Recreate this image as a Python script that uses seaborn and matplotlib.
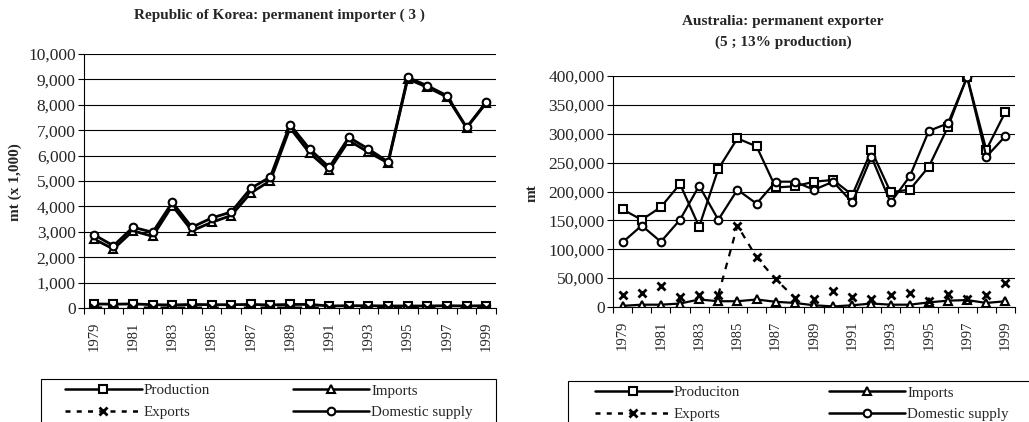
import numpy as np
import pandas as pd
import seaborn as sns
import matplotlib.pyplot as plt
from matplotlib.lines import Line2D
from matplotlib.patches import Rectangle
from matplotlib.ticker import FixedLocator, StrMethodFormatter

# data
years = np.arange(1979, 2000)

kor_production = [160, 150, 160, 130, 120, 140, 130, 130, 140, 120, 140,
                  140, 80, 90, 90, 80, 80, 80, 90, 80, 90]
kor_imports = [2720, 2320, 3040, 2820, 4030, 3040, 3370, 3640, 4530, 5010, 7090,
               6100, 5420, 6590, 6130, 5710, 9020, 8690, 8310, 7090, 8070]
kor_exports = [10, 10, 10, 5, 5, 5, 5, 5, 5, 5, 5,
               5, 5, 5, 5, 5, 5, 5, 5, 5, 5]
kor_domestic = [2890, 2450, 3180, 2980, 4160, 3180, 3540, 3780, 4710, 5160, 7220,
                6260, 5540, 6720, 6260, 5750, 9080, 8750, 8360, 7110, 8100]

aus_production = [169000, 151000, 173000, 213000, 139000, 239000, 292000, 278000,
                  207000, 209000, 217000, 220000, 194000, 271000, 199000, 203000,
                  243000, 312000, 399000, 272000, 338000]
aus_imports = [2000, 4000, 4000, 6000, 13000, 10000, 10000, 13000, 9000, 7000, 3000,
               1000, 3000, 6000, 4000, 4000, 8000, 11000, 12000, 7000, 10000]
aus_exports = [20000, 25000, 36000, 17000, 20000, 21000, 141000, 86000, 48000,
               16000, 13000, 28000, 17000, 13000, 21000, 24000, 10000, 23000,
               14000, 20000, 41000]
aus_domestic = [112000, 141000, 113000, 151000, 210000, 151000, 203000, 179000,
                217000, 217000, 203000, 217000, 181000, 260000, 181000, 226000,
                305000, 318000, 398000, 260000, 296000]

labels_kor = ["Production", "Imports", "Exports", "Domestic supply"]
labels_aus = ["Produciton", "Imports", "Exports", "Domestic supply"]

sns.set_style("white")
plt.rcParams['font.family'] = ['Liberation Serif', 'DejaVu Serif']

W, H = 1029, 422
fig = plt.figure(figsize=(W / 100, H / 100), dpi=100)


def fx(x):
    return x / W


def fy(y):
    return 1 - y / H


pos = np.arange(len(years))
solid = dict(color='black', markeredgecolor='black', markerfacecolor='white')
styles = {
    "prod": dict(marker='s', markersize=5.5, **solid),
    "imp": dict(marker='^', markersize=5.5, **solid),
    "exp": dict(marker='x', markersize=6, markeredgewidth=2, color='black',
                markeredgecolor='black'),
    "dom": dict(marker='o', markersize=5.5, **solid),
}


def draw_panel(ax, prod, imp, exp, dom, lw, ymax, ystep, dash_mask):
    sns.lineplot(x=pos, y=prod, ax=ax, lw=lw, markeredgewidth=1.5, **styles["prod"])
    sns.lineplot(x=pos, y=imp, ax=ax, lw=lw, markeredgewidth=1.5, **styles["imp"])
    exp = np.asarray(exp)
    sns.lineplot(x=pos, y=exp, ax=ax, linestyle='none', **styles["exp"])
    sns.lineplot(x=pos[dash_mask], y=exp[dash_mask], ax=ax, lw=lw, color='black',
                 dashes=False, linestyle=(0, (3, 3)))
    sns.lineplot(x=pos, y=dom, ax=ax, lw=lw, markeredgewidth=1.5, **styles["dom"])

    ax.set_xlim(-0.5, len(years) - 0.5)
    ax.set_ylim(0, ymax)
    ax.set_yticks(np.arange(0, ymax + 1, ystep))
    ax.yaxis.set_major_formatter(StrMethodFormatter('{x:,.0f}'))
    ax.set_xticks(pos[::2])
    ax.set_xticklabels([str(y) for y in years[::2]], rotation=90, fontsize=10.5)
    ax.xaxis.set_minor_locator(FixedLocator(np.arange(-0.5, len(years), 1)))
    ax.tick_params(axis='x', which='major', length=0, pad=10)
    ax.tick_params(axis='x', which='minor', length=4, width=0.8, direction='out',
                   color='black', bottom=True)
    ax.tick_params(axis='y', length=4, width=0.8, direction='out', color='black',
                   labelsize=12.5, pad=2, left=True)
    ax.yaxis.grid(True, color='black', lw=0.8)
    ax.set_axisbelow(True)
    for s in ['top', 'right']:
        ax.spines[s].set_visible(False)
    for s in ['left', 'bottom']:
        ax.spines[s].set_color('black')
        ax.spines[s].set_linewidth(0.8)
    ax.set_xlabel('')
    ax.set_ylabel('')


ax1 = fig.add_axes([fx(84), fy(308), fx(496) - fx(84), (308 - 54) / H])
draw_panel(ax1, kor_production, kor_imports, kor_exports, kor_domestic,
           2.0, 10000, 1000, np.ones(len(years), dtype=bool))

ax2 = fig.add_axes([fx(613), fy(307), fx(1015) - fx(613), (307 - 76) / H])
draw_panel(ax2, aus_production, aus_imports, aus_exports, aus_domestic,
           1.6, 400000, 50000, (years >= 1984) & (years <= 1988))

# titles and axis labels
fig.text(fx(279), fy(15), 'Republic of Korea: permanent importer ( 3 )',
         ha='center', va='center', fontweight='bold', fontsize=11)
fig.text(fx(783), fy(22), 'Australia: permanent exporter',
         ha='center', va='center', fontweight='bold', fontsize=11)
fig.text(fx(783), fy(42), '(5 ; 13% production)',
         ha='center', va='center', fontweight='bold', fontsize=11)
fig.text(fx(15), fy(182), 'mt (x 1,000)', rotation=90, ha='center', va='center',
         fontweight='bold', fontsize=11)
fig.text(fx(532), fy(193), 'mt', rotation=90, ha='center', va='center',
         fontweight='bold', fontsize=11)


# legends with boxes running off the bottom of the figure
def add_legend(labels, box_x0, box_x1, box_top, anchor_x, anchor_y, colsp):
    handles = [
        Line2D([], [], lw=1.8, markeredgewidth=1.5, **styles["prod"]),
        Line2D([], [], lw=1.8, linestyle=(0, (2, 2.5)), **styles["exp"]),
        Line2D([], [], lw=1.8, markeredgewidth=1.5, **styles["imp"]),
        Line2D([], [], lw=1.8, markeredgewidth=1.5, **styles["dom"]),
    ]
    names = [labels[0], labels[2], labels[1], labels[3]]
    fig.patches.append(Rectangle((fx(box_x0), fy(box_top + 60)),
                                 fx(box_x1) - fx(box_x0), 60 / H,
                                 transform=fig.transFigure, fill=False,
                                 edgecolor='black', lw=0.8))
    fig.legend(handles, names, ncol=2, frameon=False, loc='upper left',
               bbox_to_anchor=(fx(anchor_x), fy(anchor_y)), fontsize=10.8,
               handlelength=5.1, handletextpad=0.15, columnspacing=colsp,
               borderpad=0, borderaxespad=0, labelspacing=0.55, markerscale=1)


add_legend(labels_kor, 41, 496, 379, 65, 384, 5.5)
add_legend(labels_aus, 568, 1040, 381, 595, 386, 5.9)

fig.savefig('out.png', dpi=100)
